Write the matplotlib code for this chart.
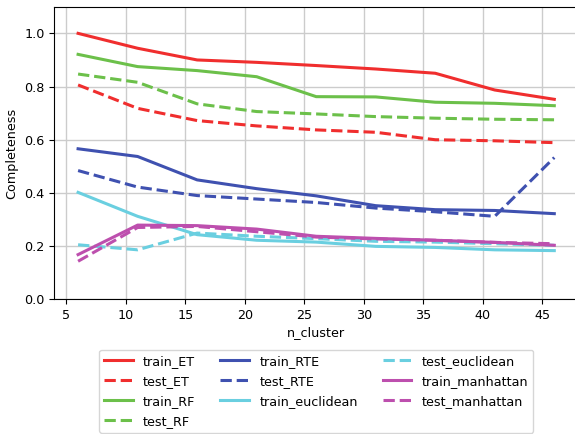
import numpy as np
import matplotlib
matplotlib.use("Agg")
import matplotlib.pyplot as plt

n_cluster = [6, 11, 16, 21, 26, 31, 36, 41, 46]

train_ET = [1.0, 0.944, 0.90, 0.891, 0.879, 0.866, 0.85, 0.787, 0.752]
test_ET = [0.806, 0.718, 0.672, 0.652, 0.637, 0.628, 0.60, 0.596, 0.589]
train_RF = [0.921, 0.875, 0.86, 0.837, 0.762, 0.761, 0.741, 0.737, 0.728]
test_RF = [0.847, 0.816, 0.735, 0.706, 0.697, 0.687, 0.681, 0.677, 0.675]
train_RTE = [0.566, 0.537, 0.449, 0.416, 0.389, 0.352, 0.337, 0.334, 0.322]
test_RTE = [0.484, 0.422, 0.39, 0.377, 0.364, 0.343, 0.329, 0.312, 0.533]
train_euclidean = [0.402, 0.312, 0.243, 0.222, 0.215, 0.199, 0.195, 0.186, 0.183]
test_euclidean = [0.205, 0.186, 0.249, 0.237, 0.228, 0.218, 0.215, 0.209, 0.203]
train_manhattan = [0.168, 0.279, 0.277, 0.264, 0.237, 0.229, 0.222, 0.214, 0.203]
test_manhattan = [0.143, 0.27, 0.274, 0.254, 0.234, 0.227, 0.222, 0.214, 0.209]

series = [
    ("train_ET", train_ET, "#f02e2e", "-"),
    ("test_ET", test_ET, "#f02e2e", "--"),
    ("train_RF", train_RF, "#6cc04a", "-"),
    ("test_RF", test_RF, "#6cc04a", "--"),
    ("train_RTE", train_RTE, "#3f51b0", "-"),
    ("test_RTE", test_RTE, "#3f51b0", "--"),
    ("train_euclidean", train_euclidean, "#6acfe0", "-"),
    ("test_euclidean", test_euclidean, "#6acfe0", "--"),
    ("train_manhattan", train_manhattan, "#bd4fae", "-"),
    ("test_manhattan", test_manhattan, "#bd4fae", "--"),
]

plt.rcParams["font.size"] = 9.2

fig = plt.figure(figsize=(5.75, 4.34), dpi=100)
# axes run a little past the right edge of the picture, like the reference
ax = fig.add_axes([0.0944, 0.3104, 0.911, 0.674])
ax.spines["right"].set_visible(False)

for name, vals, color, ls in series:
    ax.plot(n_cluster, vals, color=color, linestyle=ls, linewidth=2.2, label=name)

ax.set_xlim(4, 48)
ax.set_ylim(0, 1.1)
ax.set_xticks([5, 10, 15, 20, 25, 30, 35, 40, 45])
ax.set_yticks([0.0, 0.2, 0.4, 0.6, 0.8, 1.0])
ax.grid(True, color="#cccccc", linewidth=1)
ax.set_axisbelow(True)
ax.set_xlabel("n_cluster", labelpad=3)
ax.set_ylabel("Completeness")
ax.legend(loc="upper center", bbox_to_anchor=(0.5, -0.15), ncol=3,
          handlelength=2.25, columnspacing=1.95, labelspacing=0.55)

fig.savefig("out.png", dpi=100)
